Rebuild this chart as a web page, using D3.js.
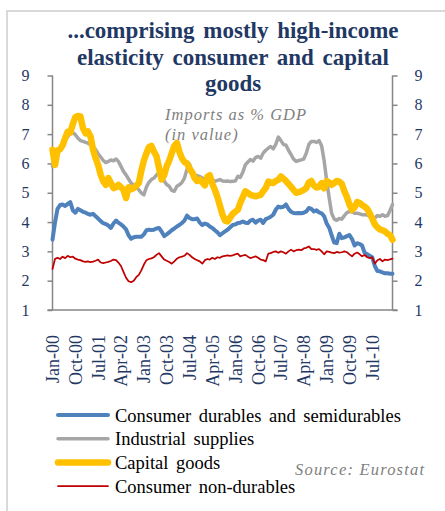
<!DOCTYPE html>
<html>
<head>
<meta charset="utf-8">
<script src="https://cdn.jsdelivr.net/npm/d3@7"></script>
<style>
  body { margin: 0; background: #fff; }
  svg { display: block; font-family: "Liberation Serif", "Times New Roman", serif; }
</style>
</head>
<body>
<svg></svg>
<script>
// imports as % of GDP by product type, monthly Jan-00 .. Mar-11

const width = 445;
const height = 511;

const months = d3.timeMonth.range(new Date(2000, 0, 1), new Date(2011, 3, 1));

const tickLabels = ["Jan-00", "Oct-00", "Jul-01", "Apr-02", "Jan-03", "Oct-03", "Jul-04",
  "Apr-05", "Jan-06", "Oct-06", "Jul-07", "Apr-08", "Jan-09", "Oct-09", "Jul-10"];

const yTicks = [1, 2, 3, 4, 5, 6, 7, 8, 9];

const seriesNames = ["Consumer durables and semidurables", "Industrial supplies",
  "Capital goods", "Consumer non-durables"];

const durables = [
  3.40, 4.00, 4.45, 4.58, 4.60, 4.55, 4.62, 4.68, 4.40, 4.32,
  4.45, 4.40, 4.35, 4.32, 4.28, 4.25, 4.28, 4.20, 4.12, 4.03,
  3.96, 3.93, 3.88, 3.80, 3.95, 4.05, 3.98, 3.92, 3.85, 3.75,
  3.55, 3.43, 3.48, 3.50, 3.50, 3.50, 3.58, 3.72, 3.74, 3.73,
  3.74, 3.78, 3.80, 3.68, 3.52, 3.58, 3.65, 3.72, 3.78, 3.85,
  3.90, 3.97, 4.05, 4.22, 4.14, 4.10, 4.10, 4.12, 3.98, 3.90,
  3.95, 3.92, 3.85, 3.80, 3.72, 3.65, 3.55, 3.62, 3.68, 3.74,
  3.82, 3.90, 3.92, 3.97, 3.98, 4.02, 3.98, 3.97, 4.05, 4.08,
  3.98, 4.05, 4.08, 3.97, 4.10, 4.14, 4.18, 4.25, 4.42, 4.53,
  4.50, 4.52, 4.60, 4.45, 4.35, 4.31, 4.30, 4.31, 4.30, 4.32,
  4.36, 4.48, 4.45, 4.36, 4.40, 4.33, 4.30, 4.20, 3.95, 3.80,
  3.55, 3.30, 3.28, 3.60, 3.45, 3.48, 3.52, 3.56, 3.42, 3.20,
  3.28, 3.25, 3.20, 2.95, 2.90, 2.85, 2.80, 2.50, 2.33, 2.32,
  2.28, 2.25, 2.25, 2.24, 2.24
];

const industrial = [
  5.90, 6.30, 6.42, 6.48, 6.62, 6.80, 6.92, 7.02, 7.05, 6.98,
  6.86, 6.78, 6.75, 6.72, 6.69, 6.64, 6.58, 6.47, 6.33, 6.22,
  6.10, 6.03, 6.07, 6.12, 6.09, 6.15, 6.07, 5.90, 5.73, 5.61,
  5.47, 5.33, 5.27, 5.18, 5.10, 4.99, 4.93, 5.20, 5.35, 5.45,
  5.50, 5.60, 5.70, 5.60, 5.40, 5.28, 5.22, 5.08, 5.05, 5.22,
  5.27, 5.35, 5.50, 5.80, 5.98, 5.72, 5.62, 5.58, 5.55, 5.50,
  5.45, 5.48, 5.50, 5.44, 5.39, 5.42, 5.45, 5.40, 5.39, 5.40,
  5.38, 5.39, 5.40, 5.56, 5.52, 5.70, 5.95, 6.05, 6.13, 6.08,
  6.20, 6.24, 6.18, 6.35, 6.45, 6.52, 6.58, 6.50, 6.65, 6.90,
  6.78, 6.65, 6.62, 6.45, 6.30, 6.15, 6.07, 6.10, 6.12, 6.15,
  6.35, 6.65, 6.75, 6.75, 6.72, 6.78, 6.60, 6.10, 5.40, 4.80,
  4.30, 4.10, 4.06, 4.12, 4.10, 4.22, 4.32, 4.36, 4.35, 4.30,
  4.30, 4.28, 4.25, 4.25, 4.24, 4.20, 4.15, 4.14, 4.22, 4.20,
  4.25, 4.20, 4.22, 4.40, 4.60
];

const capital = [
  6.47, 5.95, 6.45, 6.48, 6.62, 6.86, 7.08, 7.05, 7.35, 7.58,
  7.62, 7.60, 7.20, 7.03, 7.09, 6.92, 6.47, 6.18, 5.95, 5.61,
  5.39, 5.27, 5.50, 5.33, 5.16, 5.19, 5.27, 5.19, 5.10, 4.82,
  5.19, 5.12, 5.16, 5.24, 5.33, 5.75, 6.10, 6.35, 6.55, 6.60,
  6.40, 6.25, 5.85, 5.45, 5.60, 5.90, 6.10, 6.35, 6.60, 6.70,
  6.40, 6.18, 6.05, 6.00, 5.82, 5.70, 5.50, 5.40, 5.45, 5.35,
  5.25, 5.55, 5.60, 5.30, 5.10, 4.85, 4.55, 4.25, 4.05, 4.02,
  4.15, 4.28, 4.35, 4.42, 4.65, 4.85, 5.05, 5.00, 4.93, 4.90,
  4.88, 4.90, 4.93, 5.05, 5.16, 5.38, 5.35, 5.33, 5.40, 5.44,
  5.56, 5.48, 5.40, 5.30, 5.20, 5.10, 5.00, 5.02, 5.05, 5.10,
  5.16, 5.35, 5.40, 5.25, 5.18, 5.20, 5.33, 5.15, 5.40, 5.35,
  5.27, 5.33, 5.40, 5.38, 5.30, 5.05, 4.85, 4.60, 4.42, 4.50,
  4.68, 4.65, 4.58, 4.53, 4.45, 4.30, 4.12, 3.92, 3.82, 3.75,
  3.72, 3.68, 3.60, 3.55, 3.40
];

const nonDurables = [
  2.40, 2.75, 2.78, 2.74, 2.82, 2.77, 2.85, 2.80, 2.82, 2.75,
  2.72, 2.70, 2.66, 2.64, 2.66, 2.63, 2.65, 2.68, 2.72, 2.62,
  2.60, 2.62, 2.64, 2.67, 2.72, 2.70, 2.62, 2.50, 2.30, 2.10,
  1.98, 1.95, 2.00, 2.12, 2.20, 2.35, 2.55, 2.70, 2.74, 2.76,
  2.80, 2.88, 2.94, 2.83, 2.72, 2.68, 2.64, 2.58, 2.66, 2.75,
  2.80, 2.82, 2.85, 2.94, 2.88, 2.80, 2.74, 2.70, 2.66, 2.58,
  2.70, 2.74, 2.72, 2.78, 2.74, 2.80, 2.78, 2.83, 2.85, 2.86,
  2.85, 2.86, 2.90, 2.92, 2.83, 2.86, 2.88, 2.82, 2.77, 2.80,
  2.83, 2.78, 2.72, 2.70, 2.66, 2.92, 2.94, 2.98, 3.00, 2.95,
  3.00, 2.97, 2.92, 3.00, 3.06, 3.00, 3.04, 3.06, 3.04, 3.10,
  3.12, 3.17, 3.08, 3.08, 3.05, 3.08, 3.00, 2.90, 3.00, 2.98,
  2.96, 2.94, 2.98, 2.96, 2.97, 3.00, 2.97, 2.90, 2.83, 2.92,
  2.96, 2.90, 2.83, 2.88, 2.80, 2.77, 2.80, 2.58, 2.70, 2.74,
  2.66, 2.72, 2.70, 2.73, 2.75
];

const series = [
  { name: seriesNames[0], values: durables, color: "#4f81bd", width: 4 },
  { name: seriesNames[1], values: industrial, color: "#a6a6a6", width: 3.5 },
  { name: seriesNames[2], values: capital, color: "#ffc000", width: 6.5 },
  { name: seriesNames[3], values: nonDurables, color: "#c00000", width: 1.75 }
];

const navy = "#1f3864";
const axisGrey = "#868686";

const plot = { left: 52.5, right: 392.5, top: 75.5, bottom: 310 };

const x = d3.scaleTime()
  .domain(d3.extent(months))
  .range([plot.left, plot.right]);

const y = d3.scaleLinear()
  .domain([1, 9])
  .range([plot.bottom, plot.top]);

const svg = d3.select("svg")
  .attr("width", width)
  .attr("height", height);

svg.append("rect")
  .attr("width", width)
  .attr("height", height)
  .attr("fill", "#fff");

// outer frame, runs off the right and bottom edges
svg.append("rect")
  .attr("x", 7)
  .attr("y", 11)
  .attr("width", 460)
  .attr("height", 520)
  .attr("fill", "none")
  .attr("stroke", "#d9d9d9")
  .attr("stroke-width", 2);

// title
const title = svg.append("text")
  .attr("text-anchor", "middle")
  .attr("font-weight", "bold")
  .attr("font-size", 23)
  .attr("word-spacing", 3)
  .attr("fill", navy);
["...comprising mostly high-income", "elasticity consumer and capital", "goods"]
  .forEach((t, i) => {
    title.append("tspan")
      .attr("x", 233)
      .attr("y", 38 + i * 26.5)
      .text(t);
  });

// axes
const yLeft = svg.append("g")
  .attr("transform", `translate(${plot.left},0)`)
  .call(d3.axisLeft(y).tickValues(yTicks).tickSize(5).tickPadding(18).tickFormat(d3.format("d")));

const yRight = svg.append("g")
  .attr("transform", `translate(${plot.right},0)`)
  .call(d3.axisRight(y).tickValues(yTicks).tickSize(5).tickPadding(17).tickFormat(d3.format("d")));

[yLeft, yRight].forEach(g => {
  g.select(".domain").attr("stroke", axisGrey).attr("stroke-width", 1.5)
    .attr("d", `M0,${plot.top}V${plot.bottom}`);
  g.selectAll(".tick line").attr("stroke", axisGrey).attr("stroke-width", 1.5);
  g.selectAll(".tick text")
    .attr("fill", navy)
    .attr("font-size", 16)
    .attr("font-family", "Liberation Serif, serif")
    .attr("text-anchor", "middle");
});
yLeft.selectAll(".tick text").attr("x", -27);
yRight.selectAll(".tick text").attr("x", 26);

const tickDates = months.filter((d, i) => i % 9 === 0);

const xAxis = svg.append("g")
  .attr("transform", `translate(0,${plot.bottom})`)
  .call(d3.axisBottom(x).tickValues(tickDates).tickSize(0)
    .tickFormat((d, i) => tickLabels[i]));

xAxis.select(".domain")
  .attr("stroke", axisGrey)
  .attr("stroke-width", 1.5)
  .attr("d", `M${plot.left - 5},0H${plot.right + 5}`);

xAxis.selectAll(".tick text")
  .attr("fill", navy)
  .attr("font-size", 18)
  .attr("font-family", "Liberation Serif, serif")
  .attr("text-anchor", "end")
  .attr("transform", "rotate(-90)")
  .attr("x", -25)
  .attr("y", 0)
  .attr("dy", "0.33em");

// note
const note = svg.append("text")
  .attr("font-style", "italic")
  .attr("font-size", 16.5)
  .attr("letter-spacing", 1)
  .attr("fill", "#7f7f7f");
note.append("tspan").attr("x", 165).attr("y", 120).text("Imports  as % GDP");
note.append("tspan").attr("x", 165).attr("y", 140).text("(in value)");

// lines
const line = d3.line()
  .x((d, i) => x(months[i]))
  .y(d => y(d));

svg.append("g")
  .attr("fill", "none")
  .attr("stroke-linejoin", "round")
  .attr("stroke-linecap", "round")
  .selectAll("path")
  .data(series)
  .join("path")
  .attr("stroke", d => d.color)
  .attr("stroke-width", d => d.width)
  .attr("d", d => line(d.values));

// legend
const legend = svg.append("g")
  .attr("transform", "translate(58,415)");

series.forEach((s, i) => {
  const g = legend.append("g").attr("transform", `translate(0,${i * 23.7})`);
  g.append("line")
    .attr("x1", 0)
    .attr("x2", 50)
    .attr("stroke", s.color)
    .attr("stroke-width", s.width)
    .attr("stroke-linecap", "round");
  g.append("text")
    .attr("x", 57)
    .attr("y", 6.5)
    .attr("font-size", 18.5)
    .attr("fill", "#000")
    .attr("word-spacing", 3)
    .text(s.name);
});

svg.append("text")
  .attr("x", 295)
  .attr("y", 475)
  .attr("font-style", "italic")
  .attr("font-size", 16.5)
  .attr("letter-spacing", 1.2)
  .attr("fill", "#7f7f7f")
  .text("Source: Eurostat");
</script>
</body>
</html>
